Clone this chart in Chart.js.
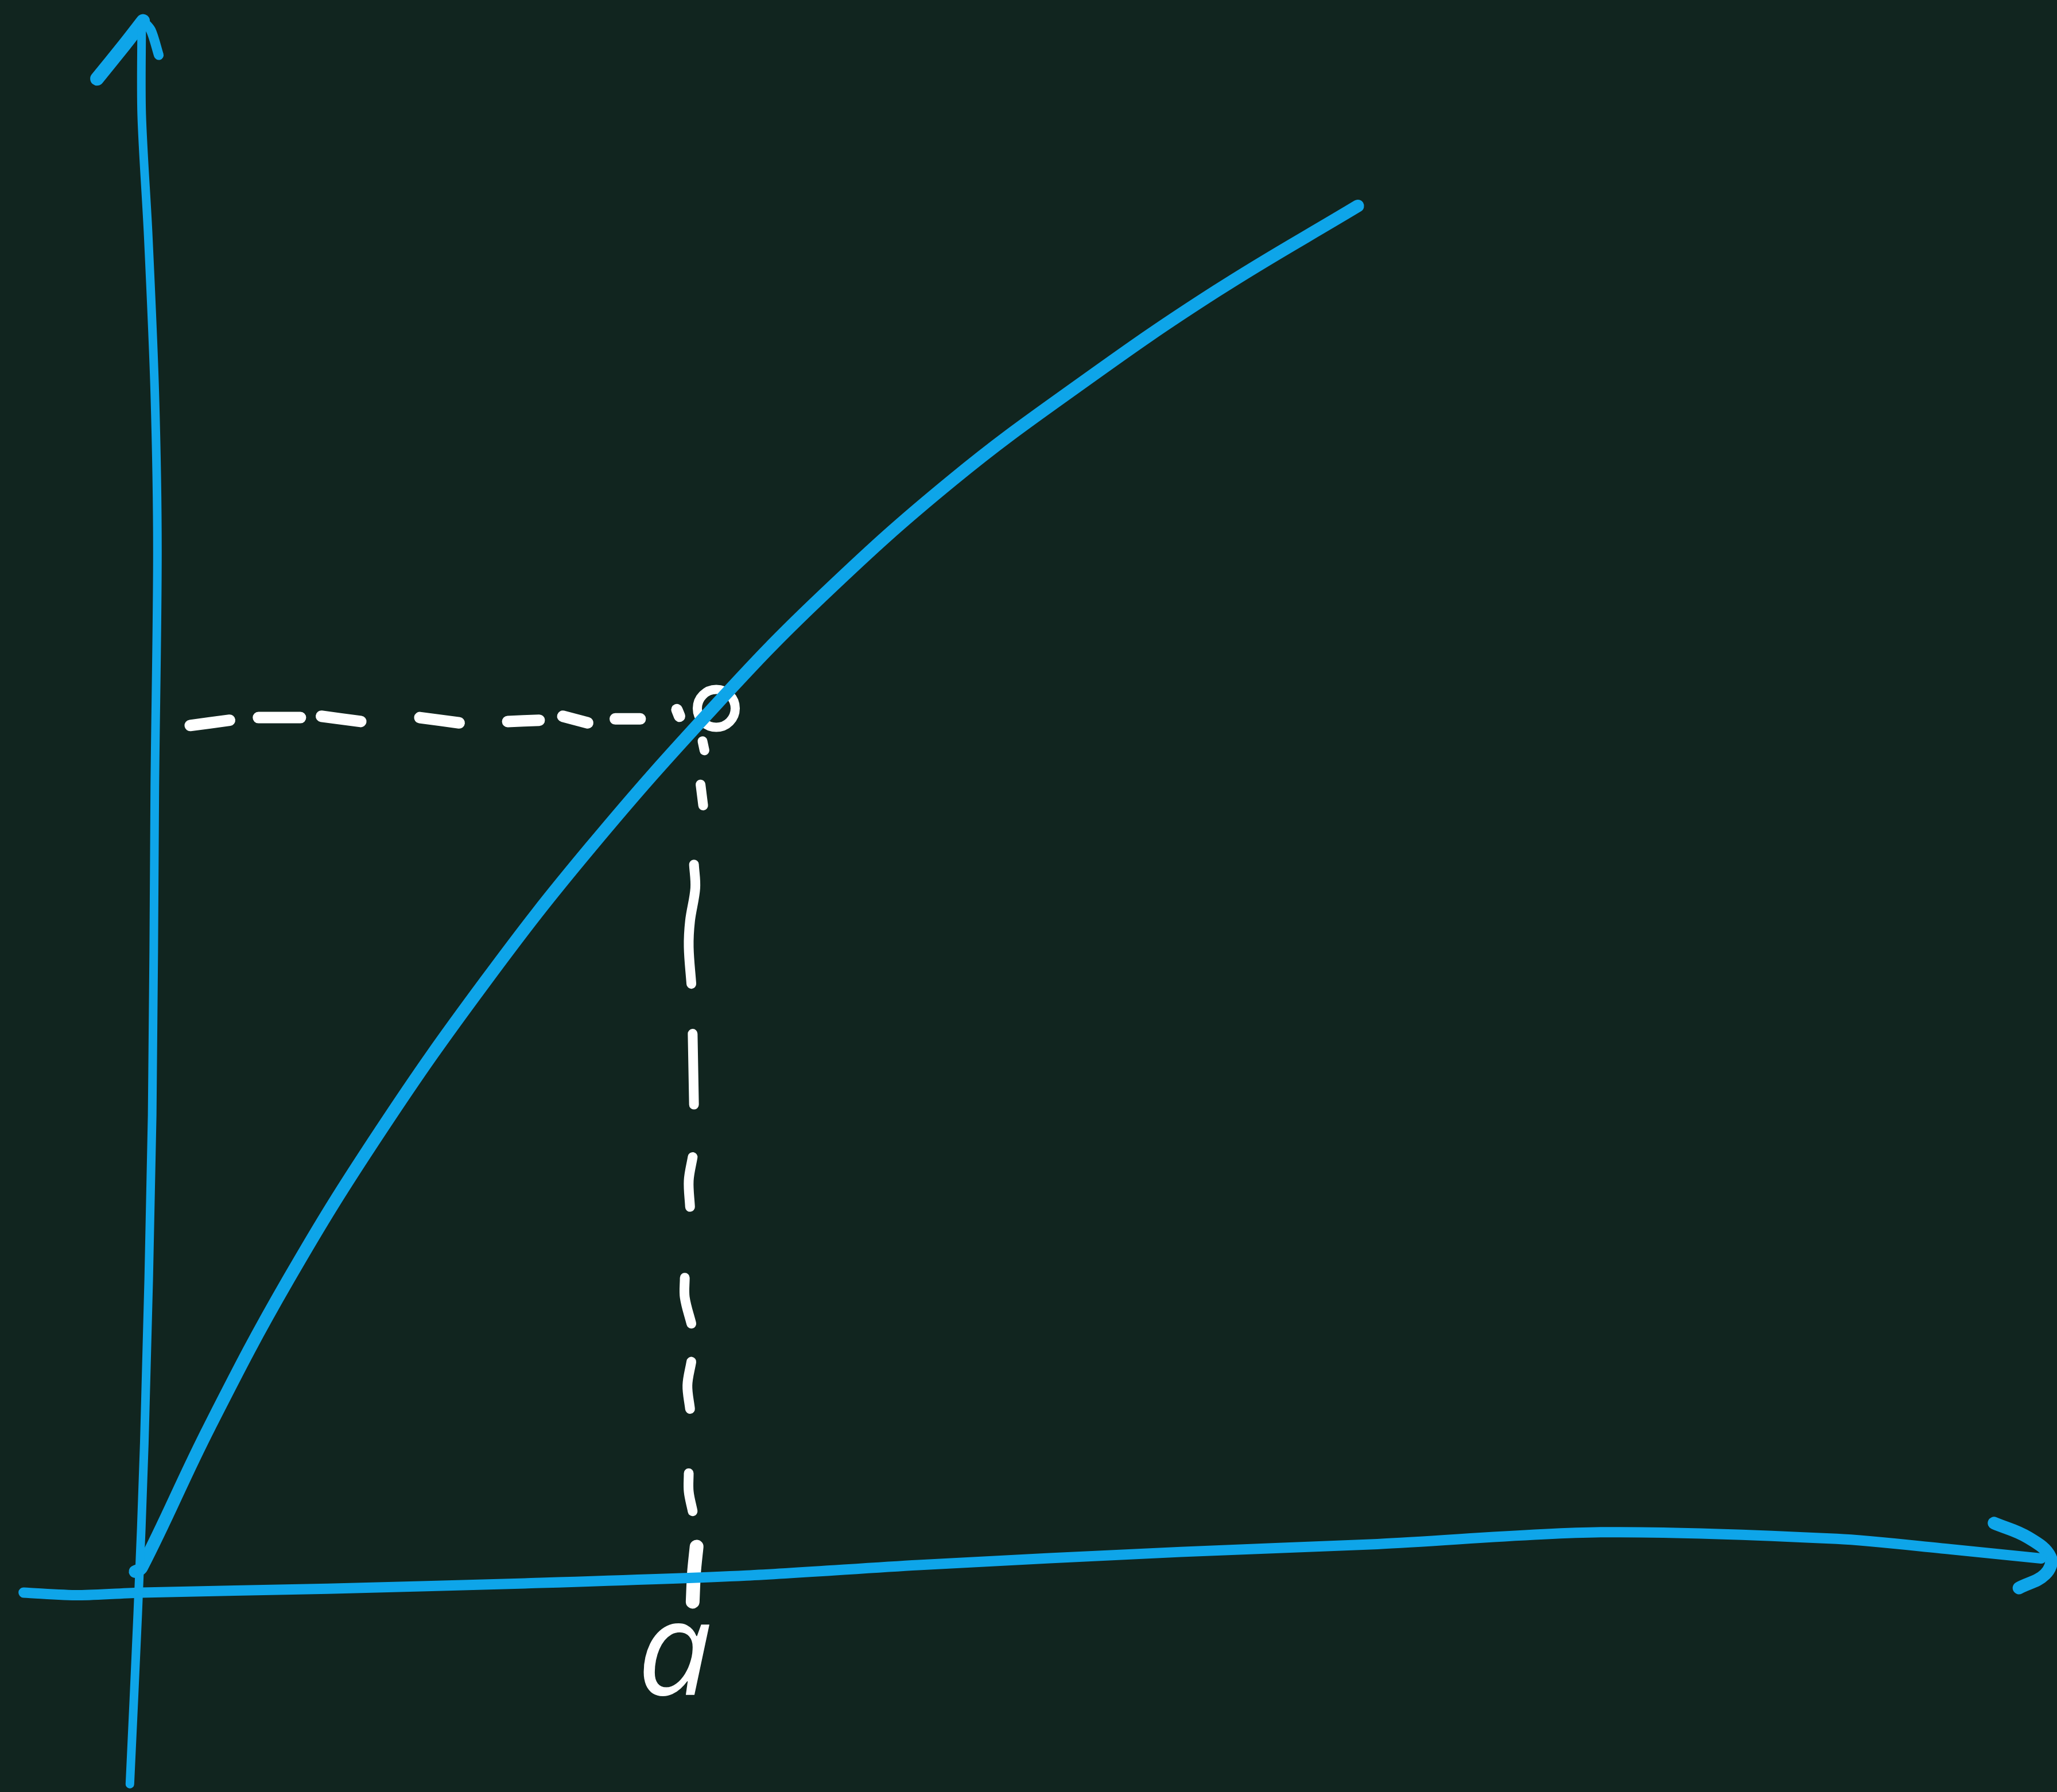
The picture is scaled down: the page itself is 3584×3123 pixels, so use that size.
<!DOCTYPE html>
<html>
<head>
<meta charset="utf-8">
<title>f(a)</title>
<script src="https://cdn.jsdelivr.net/npm/chart.js@4.4.0/dist/chart.umd.min.js"></script>
<style>
  html, body { margin: 0; padding: 0; background: #11251f; }
  canvas { display: block; }
</style>
</head>
<body>
<canvas id="chart" width="3584" height="3123" style="width:3584px;height:3123px"></canvas>
<script>
// hand-sketched curve, traced as [x, y]
const curve = [
  [-0.05, 0.14], [0.00, 0.17], [0.52, 1.25], [1.12, 2.37], [1.82, 3.50],
  [2.62, 4.64], [3.42, 5.66], [4.38, 6.75], [5.18, 7.57], [6.18, 8.46],
  [7.18, 9.21], [8.19, 9.90], [9.27, 10.55]
];

// axes, drawn freehand
const xAxisPath = [
  [-0.90, -0.02], [-0.48, -0.04], [0.00, -0.02], [1.42, 0.01], [2.92, 0.05],
  [4.61, 0.11], [5.92, 0.19], [7.92, 0.29], [9.42, 0.35], [11.12, 0.44],
  [12.92, 0.39], [13.79, 0.31], [14.48, 0.24]
];
const xArrow = [[14.12, 0.51], [14.38, 0.40], [14.55, 0.25], [14.51, 0.12], [14.31, 0.015]];

const yAxisPath = [
  [-0.09, -1.48], [-0.03, -0.18], [0.02, 1.12], [0.08, 3.62], [0.10, 6.12],
  [0.12, 7.92], [0.10, 9.12], [0.05, 10.32], [0.00, 11.25], [0.00, 11.95]
];
const yArrowLeft = [[-0.34, 11.52], [-0.13, 11.78], [0.01, 11.96]];
const yArrowRight = [[0.01, 11.96], [0.07, 11.89], [0.13, 11.70]];

// marked point on the curve
const markedPoint = [[4.38, 6.72]];

// dashed guides, one sub-array per dash
const hDashes = [
  [[0.37, 6.59], [0.67, 6.63]],
  [[0.89, 6.65], [1.21, 6.65]],
  [[1.37, 6.66], [1.67, 6.62]],
  [[2.12, 6.65], [2.42, 6.61]],
  [[2.79, 6.62], [3.03, 6.63]],
  [[3.21, 6.66], [3.40, 6.61]],
  [[3.61, 6.64], [3.80, 6.64]],
  [[4.08, 6.71], [4.10, 6.66]]
];
const vDashes = [
  [[4.275, 6.47], [4.29, 6.40]],
  [[4.26, 6.14], [4.28, 5.98]],
  [[4.21, 5.53], [4.22, 5.35], [4.18, 5.10], [4.17, 4.90], [4.19, 4.62]],
  [[4.20, 4.24], [4.21, 3.70]],
  [[4.20, 3.30], [4.17, 3.12], [4.18, 2.92]],
  [[4.14, 2.38], [4.14, 2.23], [4.19, 2.03]],
  [[4.19, 1.74], [4.16, 1.56], [4.18, 1.38]],
  [[4.17, 0.89], [4.17, 0.75], [4.20, 0.60]]
];
const vDashLast = [[4.23, 0.33], [4.21, 0.13], [4.20, -0.09]];

const xTickValues = [4.15];
const xTickLabels = ['a'];

const BG = '#11251f';
const BLUE = '#0ea5e9';
const WHITE = '#ffffff';

const pts = arr => arr.map(p => ({ x: p[0], y: p[1] }));
// join the dashes, with a null between each so the line breaks
const dashed = groups => {
  const out = [];
  groups.forEach((g, i) => {
    if (i > 0) out.push({ x: g[0][0], y: null });
    g.forEach(p => out.push({ x: p[0], y: p[1] }));
  });
  return out;
};

const stroke = (data, color, width, tension) => ({
  data: data,
  borderColor: color,
  borderWidth: width,
  borderCapStyle: 'round',
  borderJoinStyle: 'round',
  tension: tension,
  spanGaps: false,
  fill: false,
  pointRadius: 0,
  pointHoverRadius: 0
});

const background = {
  id: 'background',
  beforeDraw(chart) {
    const ctx = chart.ctx;
    ctx.save();
    ctx.fillStyle = BG;
    ctx.fillRect(0, 0, chart.width, chart.height);
    ctx.restore();
  }
};

// writes the x tick labels under the axis
const tickText = {
  id: 'tickText',
  afterDatasetsDraw(chart) {
    const ctx = chart.ctx;
    const xs = chart.scales.x, ys = chart.scales.y;
    ctx.save();
    ctx.fillStyle = WHITE;
    ctx.font = 'italic 230px "Open Sans", "Noto Sans", sans-serif';
    ctx.textAlign = 'center';
    ctx.textBaseline = 'alphabetic';
    xTickValues.forEach((v, i) => {
      ctx.fillText(xTickLabels[i], xs.getPixelForValue(v) - 20, ys.getPixelForValue(-0.80));
    });
    ctx.restore();
  }
};

new Chart(document.getElementById('chart'), {
  type: 'line',
  data: {
    datasets: [
      stroke(pts(yAxisPath), BLUE, 15, 0.3),
      stroke(pts(yArrowLeft), BLUE, 24, 0.3),
      stroke(pts(yArrowRight), BLUE, 17, 0.3),
      stroke(pts(xAxisPath), BLUE, 18, 0.3),
      stroke(pts(xArrow), BLUE, 22, 0.4),
      stroke(pts(curve), BLUE, 22, 0.4),
      stroke(dashed(hDashes), WHITE, 20, 0.3),
      stroke(dashed(vDashes), WHITE, 17, 0.35),
      stroke(pts(vDashLast), WHITE, 24, 0.3),
      {
        data: pts(markedPoint),
        showLine: false,
        pointRadius: 33,
        pointBorderWidth: 16,
        pointBorderColor: WHITE,
        pointBackgroundColor: 'rgba(0,0,0,0)',
        pointHoverRadius: 33
      }
    ]
  },
  options: {
    responsive: false,
    animation: false,
    events: [],
    layout: { padding: 0, autoPadding: false },
    plugins: {
      legend: { display: false },
      tooltip: { enabled: false }
    },
    scales: {
      x: { type: 'linear', min: -1.08, max: 14.60, display: false },
      y: { type: 'linear', min: -1.54, max: 12.12, display: false }
    }
  },
  plugins: [background, tickText]
});
</script>
</body>
</html>
